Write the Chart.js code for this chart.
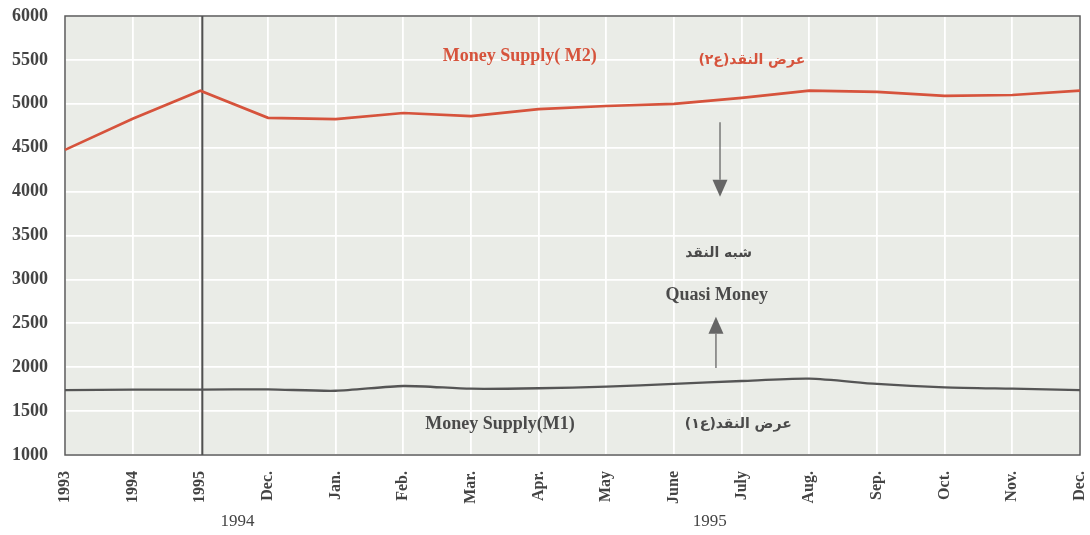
<!DOCTYPE html>
<html>
<head>
<meta charset="utf-8">
<script src="https://cdn.jsdelivr.net/npm/chart.js@4/dist/chart.umd.min.js"></script>
<style>
html,body{margin:0;padding:0;background:#ffffff;}
#wrap{width:1090px;height:535px;}
</style>
</head>
<body>
<div id="wrap"><canvas id="c" width="1090" height="535"></canvas></div>
<script>
// ---- data ----
const categories = ["1993","1994","1995","Dec.","Jan.","Feb.","Mar.","Apr.","May","June","July","Aug.","Sep.","Oct.","Nov.","Dec."];
const m2Values = [4475, 4830, 5150, 4840, 4825, 4895, 4860, 4940, 4975, 5000, 5068, 5150, 5135, 5090, 5100, 5150];
const m1Values = [1740, 1745, 1745, 1748, 1732, 1786, 1755, 1760, 1778, 1809, 1843, 1869, 1809, 1771, 1755, 1740];
const yTicks = [1000, 1500, 2000, 2500, 3000, 3500, 4000, 4500, 5000, 5500, 6000];
const yearLabels = ["1994", "1995"];
const seriesNames = ["Money Supply(M2)", "Money Supply(M1)"];

const SERIF = "'Liberation Serif', 'DejaVu Serif', serif";
const ARAB = "'DejaVu Sans', 'Noto Sans', sans-serif";
const RED = '#d6533c';
const DARK = '#4a4a4a';

function arrow(ctx, x, yFrom, yTo, color) {
  const dir = yTo > yFrom ? 1 : -1;
  const headLen = 17, headHalf = 7.5;
  ctx.save();
  ctx.strokeStyle = color; ctx.fillStyle = color; ctx.lineWidth = 1.3;
  ctx.beginPath(); ctx.moveTo(x, yFrom); ctx.lineTo(x, yTo - dir * headLen); ctx.stroke();
  ctx.beginPath();
  ctx.moveTo(x - headHalf, yTo - dir * headLen);
  ctx.lineTo(x + headHalf, yTo - dir * headLen);
  ctx.lineTo(x, yTo);
  ctx.closePath(); ctx.fill();
  ctx.restore();
}

const decor = {
  id: 'decor',
  beforeDraw(chart) {
    const {ctx, chartArea: a} = chart;
    ctx.save();
    ctx.fillStyle = '#eaece7';
    ctx.fillRect(a.left, a.top, a.right - a.left, a.bottom - a.top);
    ctx.restore();
  },
  beforeDatasetsDraw(chart) {
    const {ctx, chartArea: a, scales: {x}} = chart;
    ctx.save();
    ctx.strokeStyle = '#5a5a5a'; ctx.lineWidth = 1.5;
    ctx.strokeRect(a.left, a.top, a.right - a.left, a.bottom - a.top);
    // separator line at 1995
    const sx = x.getPixelForValue(2) + 2;
    ctx.strokeStyle = '#505050'; ctx.lineWidth = 2;
    ctx.beginPath(); ctx.moveTo(sx, a.top); ctx.lineTo(sx, a.bottom); ctx.stroke();
    ctx.restore();
  },
  afterDatasetsDraw(chart) {
    const {ctx, chartArea: a, scales: {x, y}} = chart;
    const X = v => x.getPixelForValue(v);
    const Y = v => y.getPixelForValue(v);
    ctx.save();
    ctx.textBaseline = 'middle';
    ctx.textAlign = 'center';
    // M2 labels
    ctx.fillStyle = RED;
    ctx.font = "bold 18px " + SERIF;
    ctx.fillText("Money Supply( M2)", X(6.72), Y(5540));
    ctx.font = "bold 14px " + ARAB;
    ctx.direction = 'rtl';
    ctx.fillText("عرض النقد(ع٢)", X(10.15), Y(5500));
    ctx.direction = 'ltr';
    // Quasi money
    ctx.fillStyle = DARK;
    arrow(ctx, X(9.68), Y(4790), Y(3940), '#666');
    ctx.font = "bold 14px " + ARAB;
    ctx.direction = 'rtl';
    ctx.fillText("شبه النقد", X(9.66), Y(3300));
    ctx.direction = 'ltr';
    ctx.font = "bold 18px " + SERIF;
    ctx.fillText("Quasi Money", X(9.63), Y(2822));
    arrow(ctx, X(9.62), Y(1990), Y(2575), '#666');
    // M1 labels
    ctx.font = "bold 18px " + SERIF;
    ctx.fillText("Money Supply(M1)", X(6.43), Y(1345));
    ctx.font = "bold 14px " + ARAB;
    ctx.direction = 'rtl';
    ctx.fillText("عرض النقد(ع١)", X(9.95), Y(1345));
    ctx.direction = 'ltr';
    // year labels under the axis
    ctx.font = "17px " + SERIF;
    ctx.fillStyle = '#444';
    ctx.fillText(yearLabels[0], X(2.55), a.bottom + 67);
    ctx.fillText(yearLabels[1], X(9.53), a.bottom + 67);
    ctx.restore();
  }
};

new Chart(document.getElementById('c'), {
  type: 'line',
  data: {
    labels: categories,
    datasets: [
      { label: seriesNames[0], data: m2Values, borderColor: RED, borderWidth: 2.7, pointRadius: 0, tension: 0, fill: false },
      { label: seriesNames[1], data: m1Values, borderColor: '#555555', borderWidth: 2.3, pointRadius: 0, tension: 0.25, fill: false }
    ]
  },
  options: {
    responsive: false,
    animation: false,
    events: [],
    layout: { padding: { top: 16, right: 10, left: 0, bottom: 0 } },
    plugins: { legend: { display: false }, tooltip: { enabled: false } },
    scales: {
      x: {
        type: 'category',
        offset: false,
        grid: { color: '#ffffff', lineWidth: 1.8, drawTicks: false },
        border: { display: false },
        ticks: {
          autoSkip: false, minRotation: 90, maxRotation: 90, padding: 16,
          color: '#444', font: { family: SERIF, size: 16, weight: 'bold' }
        },
        afterFit(scale) { scale.height = 80; scale.paddingLeft = 0; scale.paddingRight = 0; }
      },
      y: {
        min: 1000, max: 6000,
        afterBuildTicks(scale) { scale.ticks = yTicks.map(v => ({ value: v })); },
        grid: { color: '#ffffff', lineWidth: 1.8, drawTicks: false },
        border: { display: false },
        ticks: {
          padding: 17, color: '#444', font: { family: SERIF, size: 18, weight: 'bold' },
          callback: v => String(v)
        },
        afterFit(scale) { scale.width = 65; scale.paddingTop = 0; scale.paddingBottom = 0; }
      }
    }
  },
  plugins: [decor]
});
</script>
</body>
</html>
